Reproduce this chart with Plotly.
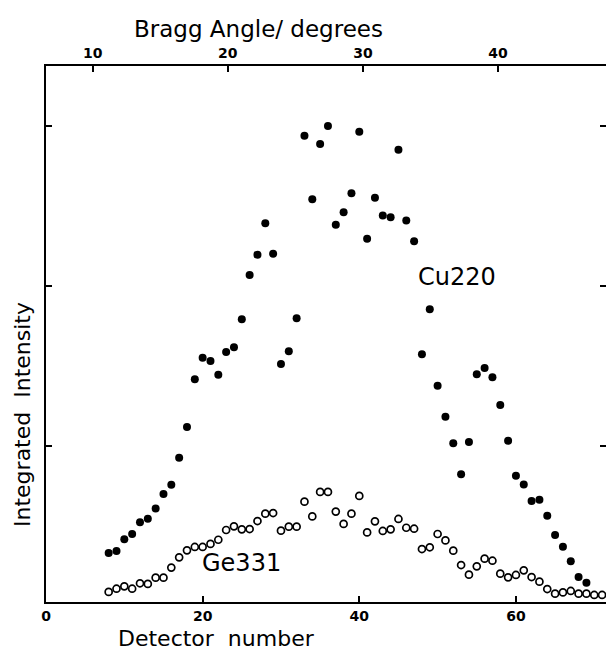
import plotly.graph_objects as go

# Detector numbers and integrated intensities (arbitrary units, tick spacing = 1)
cu_detector = list(range(8, 70))
cu_intensity = [0.331, 0.344, 0.417, 0.450, 0.523, 0.546, 0.610, 0.700, 0.758, 0.927,
                1.119, 1.417, 1.552, 1.531, 1.446, 1.588, 1.617, 1.792, 2.069, 2.196,
                2.392, 2.202, 1.513, 1.592, 1.798, 2.939, 2.542, 2.888, 3.000, 2.383,
                2.461, 2.579, 2.964, 2.296, 2.552, 2.440, 2.430, 2.852, 2.410, 2.279,
                1.573, 1.854, 1.377, 1.183, 1.017, 0.823, 1.025, 1.448, 1.488, 1.429,
                1.256, 1.033, 0.814, 0.760, 0.656, 0.664, 0.564, 0.444, 0.371, 0.279,
                0.181, 0.146]

ge_detector = list(range(8, 72))
ge_intensity = [0.088, 0.108, 0.123, 0.108, 0.142, 0.138, 0.177, 0.177, 0.240, 0.304,
                0.348, 0.369, 0.369, 0.388, 0.414, 0.475, 0.498, 0.479, 0.481, 0.531,
                0.577, 0.581, 0.471, 0.496, 0.496, 0.652, 0.560, 0.713, 0.713, 0.590,
                0.513, 0.577, 0.688, 0.460, 0.529, 0.469, 0.479, 0.544, 0.489, 0.483,
                0.356, 0.367, 0.450, 0.410, 0.346, 0.256, 0.196, 0.248, 0.296, 0.283,
                0.202, 0.179, 0.194, 0.223, 0.181, 0.152, 0.106, 0.077, 0.085, 0.094,
                0.077, 0.077, 0.069, 0.069]

bottom_ticks = [0, 20, 40, 60]
top_ticks = [10, 20, 30, 40]
y_ticks = [1, 2, 3]

FONT = "DejaVu Sans"

fig = go.Figure()
fig.add_trace(go.Scatter(
    x=cu_detector, y=cu_intensity, mode="markers", name="Cu220",
    marker=dict(symbol="circle", size=8, color="black", line=dict(width=0)),
    cliponaxis=False, showlegend=False))
fig.add_trace(go.Scatter(
    x=ge_detector, y=ge_intensity, mode="markers", name="Ge331",
    marker=dict(symbol="circle-open", size=7, color="black", line=dict(width=1.7)),
    cliponaxis=False, showlegend=False))
# invisible trace to activate the top (Bragg angle) axis
fig.add_trace(go.Scatter(x=[], y=[], xaxis="x2", yaxis="y", showlegend=False))
# invisible trace to activate the right tick axis
fig.add_trace(go.Scatter(x=[], y=[], xaxis="x", yaxis="y2", showlegend=False))

tickfont = dict(family=FONT, size=14, color="black", weight="bold")

fig.update_layout(
    width=606, height=654,
    margin=dict(l=46, r=0, t=66, b=52),
    paper_bgcolor="white", plot_bgcolor="white",
    xaxis=dict(range=[0, 71.5], tickvals=bottom_ticks, ticks="inside", ticklen=6,
               tickwidth=1.5, tickcolor="black", showline=True, linewidth=2,
               linecolor="black", showgrid=False, zeroline=False,
               tickfont=tickfont),
    xaxis2=dict(range=[6.54, 48.0], overlaying="x", side="top", anchor="y",
                tickvals=top_ticks, ticks="inside", ticklen=6, tickwidth=1.5,
                tickcolor="black", showline=True, linewidth=2, linecolor="black",
                showgrid=False, zeroline=False, tickfont=tickfont),
    yaxis=dict(range=[0.025, 3.375], tickvals=y_ticks, ticks="inside", ticklen=6,
               tickwidth=1.5, tickcolor="black", showticklabels=False,
               showline=True, linewidth=2, linecolor="black", showgrid=False,
               zeroline=False),
    yaxis2=dict(range=[0.025, 3.375], overlaying="y", side="right", anchor="x",
                tickvals=y_ticks, ticks="inside", ticklen=6, tickwidth=1.5,
                tickcolor="black", showticklabels=False, showline=False,
                showgrid=False, zeroline=False),
    annotations=[
        dict(text="Cu220", x=52.5, y=2.056, xref="x", yref="y", showarrow=False,
             xanchor="center", yanchor="middle",
             font=dict(family=FONT, size=24, color="black")),
        dict(text="Ge331", x=25.0, y=0.267, xref="x", yref="y", showarrow=False,
             xanchor="center", yanchor="middle",
             font=dict(family=FONT, size=24, color="black")),
        dict(text="Bragg Angle/ degrees", x=0.380, y=1.069, xref="paper", yref="paper",
             showarrow=False, xanchor="center", yanchor="middle",
             font=dict(family=FONT, size=23, color="black")),
        dict(text="Detector  number", x=0.305, y=-0.069, xref="paper", yref="paper",
             showarrow=False, xanchor="center", yanchor="middle",
             font=dict(family=FONT, size=22, color="black")),
        dict(text="Integrated  Intensity", x=-0.041, y=0.349, xref="paper", yref="paper",
             showarrow=False, textangle=-90, xanchor="center", yanchor="middle",
             font=dict(family=FONT, size=22, color="black")),
    ],
)

fig.write_html(
    "out.html",
    config={"displayModeBar": False},
    post_script="document.body.style.margin='0';document.body.style.overflow='hidden';",
)
